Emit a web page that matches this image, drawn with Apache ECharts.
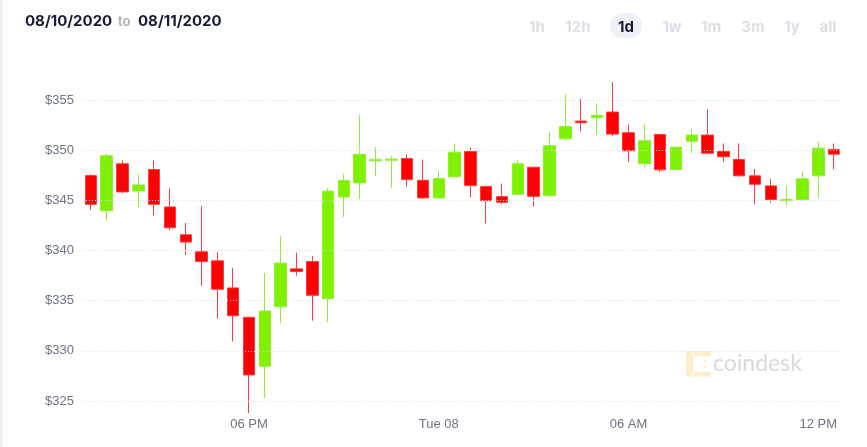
<!DOCTYPE html>
<html>
<head>
<meta charset="utf-8">
<script src="https://cdn.jsdelivr.net/npm/echarts@6/dist/echarts.min.js"></script>
<style>
    html, body { margin: 0; padding: 0; background: #fff; }
    #chart { width: 867px; height: 447px; }
</style>
</head>
<body>
<div id="chart"></div>
<script>
    // 30 minute candles, 08/10 13:00 -> 08/11 12:30
    var times = ['13:00', '13:30', '14:00', '14:30', '15:00', '15:30', '16:00', '16:30',
        '17:00', '17:30', '18:00', '18:30', '19:00', '19:30', '20:00', '20:30',
        '21:00', '21:30', '22:00', '22:30', '23:00', '23:30', '00:00', '00:30',
        '01:00', '01:30', '02:00', '02:30', '03:00', '03:30', '04:00', '04:30',
        '05:00', '05:30', '06:00', '06:30', '07:00', '07:30', '08:00', '08:30',
        '09:00', '09:30', '10:00', '10:30', '11:00', '11:30', '12:00', '12:30'];

    var openP = [347.47, 343.97, 348.64, 345.94, 348.07, 344.34, 341.57, 339.87,
        338.97, 336.27, 333.34, 328.47, 334.40, 338.17, 338.90, 335.20,
        345.34, 346.74, 348.95, 349.00, 349.17, 347.00, 345.24, 347.34,
        349.87, 346.37, 345.37, 345.60, 348.30, 345.47, 351.14, 352.90,
        353.24, 353.80, 351.74, 348.67, 351.57, 348.07, 350.90, 351.50,
        349.87, 349.07, 347.44, 346.44, 344.97, 345.07, 347.44, 350.07];
    var closeP = [344.60, 349.44, 345.84, 346.54, 344.60, 342.27, 340.84, 338.90,
        336.14, 333.50, 327.60, 333.97, 338.74, 337.90, 335.54, 345.90,
        346.97, 349.57, 349.05, 349.10, 347.07, 345.24, 347.17, 349.80,
        346.47, 344.97, 344.80, 348.64, 345.40, 350.44, 352.34, 352.74,
        353.47, 351.60, 349.94, 350.94, 348.04, 350.30, 351.50, 349.70,
        349.34, 347.44, 346.60, 345.07, 345.07, 347.14, 350.20, 349.60];
    var lowP = [344.07, 342.97, 345.70, 344.30, 343.50, 342.04, 339.57, 336.47,
        333.20, 330.94, 323.80, 325.30, 332.74, 337.50, 333.00, 332.87,
        343.34, 345.14, 347.40, 346.24, 346.34, 345.14, 345.20, 347.30,
        345.30, 342.70, 344.60, 345.55, 344.40, 345.37, 351.00, 351.87,
        351.54, 351.40, 348.84, 348.30, 347.84, 348.05, 349.67, 349.60,
        348.84, 347.40, 344.60, 344.77, 344.50, 344.97, 345.27, 348.10];
    var highP = [347.60, 349.67, 349.00, 347.64, 348.97, 346.20, 342.74, 344.40,
        339.84, 338.27, 333.40, 337.74, 341.47, 339.80, 339.47, 346.24,
        347.64, 353.50, 350.30, 349.40, 349.57, 349.07, 347.94, 350.67,
        350.24, 346.47, 346.67, 349.00, 348.34, 351.77, 355.57, 355.07,
        354.67, 356.77, 352.57, 352.57, 351.60, 350.32, 352.17, 354.07,
        350.67, 350.67, 348.14, 347.14, 346.44, 347.84, 350.87, 350.67];

    var tickAt = ['18:00', '00:00', '06:00', '12:00'];
    var tickText = ['06 PM', 'Tue 08', '06 AM', '12 PM'];
    var ranges = ['1h', '12h', '1d', '1w', '1m', '3m', '1y', 'all'];
    var rangeX = [537, 578, 626, 672, 711, 753, 792, 828];

    var ohlc = times.map(function (t, i) {
        return [openP[i], closeP[i], lowP[i], highP[i]];
    });

    var graphics = [
        {type: 'rect', left: 0, top: 0, shape: {width: 3, height: 447}, style: {fill: '#eef2f9'}},
        {type: 'text', left: 25, top: 14, style: {text: '08/10/2020', fill: '#151a38', font: '700 15px Inter'}},
        {type: 'text', left: 118, top: 16, style: {text: 'to', fill: '#a9acbb', font: '600 13px Inter'}},
        {type: 'text', left: 138, top: 14, style: {text: '08/11/2020', fill: '#151a38', font: '700 15px Inter'}},
        {type: 'rect', left: 610, top: 13, shape: {width: 32, height: 25, r: 12}, style: {fill: '#eef1f7'}},
        // watermark
        {type: 'text', left: 713, top: 352, style: {text: 'coindesk', fill: '#d6d9e0', font: '23px Lato'}}
    ];
    ranges.forEach(function (r, i) {
        graphics.push({
            type: 'text', x: rangeX[i], y: 27,
            style: {
                text: r, align: 'center', verticalAlign: 'middle',
                fill: r === '1d' ? '#161a34' : '#dcdee8', font: '700 15px Inter'
            }
        });
    });
    // coindesk logo: bracket made of dots
    graphics.push({type: 'rect', shape: {x: 686, y: 351, width: 7, height: 26, r: 3.5}, style: {fill: '#fdefc9'}});
    [[697, 354], [703, 354], [708, 354], [697, 374], [703, 374], [708, 374]].forEach(function (p) {
        graphics.push({type: 'circle', shape: {cx: p[0], cy: p[1], r: 3}, style: {fill: '#fdefc9'}});
    });
    [[705, 361], [705, 367]].forEach(function (p) {
        graphics.push({type: 'circle', shape: {cx: p[0], cy: p[1], r: 1.5}, style: {fill: '#fdefc9'}});
    });

    var option = {
        animation: false,
        grid: {left: 83, right: 25, top: 100, bottom: 46},
        xAxis: {
            type: 'category',
            data: times,
            boundaryGap: true,
            axisLine: {show: false},
            axisTick: {show: false},
            splitLine: {show: false},
            axisLabel: {
                interval: function (idx, val) {
                    return tickAt.indexOf(val) >= 0;
                },
                formatter: function (val) {
                    return tickText[tickAt.indexOf(val)];
                },
                margin: 17,
                color: '#6e7385',
                fontSize: 13,
                fontFamily: 'Liberation Sans'
            }
        },
        yAxis: {
            type: 'value',
            min: 325,
            max: 355,
            interval: 5,
            z: 3,
            axisLine: {show: false},
            axisTick: {show: false},
            axisLabel: {
                formatter: function (v) {
                    return '$' + v;
                },
                margin: 9,
                color: '#6e7385',
                fontSize: 13,
                fontFamily: 'Liberation Sans'
            },
            splitLine: {
                lineStyle: {color: '#d6dae6', type: [1, 2], width: 1}
            }
        },
        series: [{
            type: 'candlestick',
            data: ohlc,
            clip: false,
            barWidth: 12,
            itemStyle: {
                color: '#7ff000',
                color0: '#ff0000',
                borderColor: '#8ef22a',
                borderColor0: '#ff3a3a',
                borderWidth: 1
            }
        }],
        graphic: graphics
    };

    var myChart = echarts.init(document.getElementById('chart'));
    myChart.setOption(option);
</script>
</body>
</html>
